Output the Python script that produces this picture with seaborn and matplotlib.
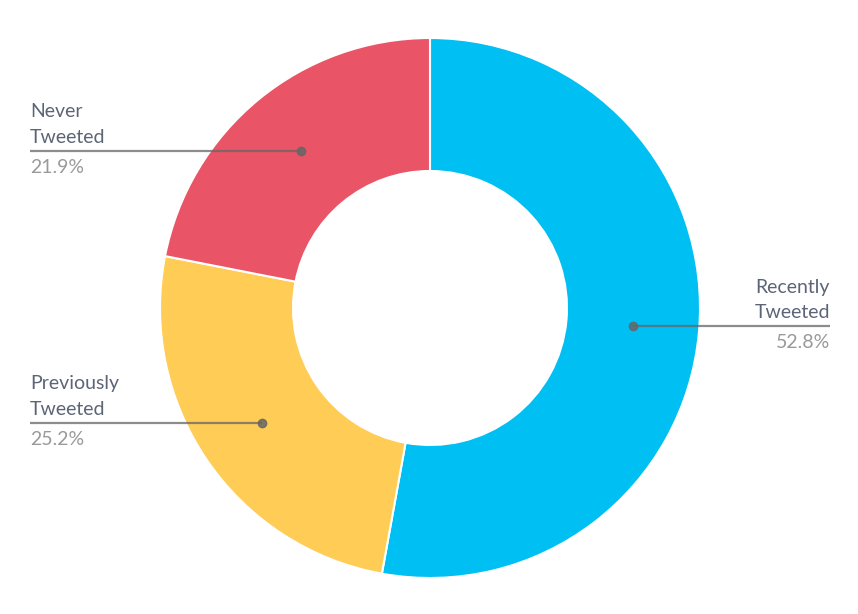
import numpy as np
import matplotlib
matplotlib.use("Agg")
import matplotlib.pyplot as plt
import seaborn as sns

# chart data
labels = ["Recently\nTweeted", "Previously\nTweeted", "Never\nTweeted"]
shares = [52.8, 25.2, 21.9]
colors = ["#00BFF3", "#FFCC55", "#EA5467"]

sns.set_theme(style="white")
plt.rcParams["font.family"] = ["Lato", "DejaVu Sans"]

fig = plt.figure(figsize=(8.58, 6.14), dpi=100)
ax = fig.add_axes([0, 0, 1, 1])

cx, cy = 430, 306
R = 270
ring = 133

wedges, _ = ax.pie(shares, colors=colors, startangle=90, counterclock=False,
                   center=(cx, cy), radius=R, frame=True,
                   wedgeprops=dict(width=ring, edgecolor="white", linewidth=1.5))
ax.set_xlim(0, 858)
ax.set_ylim(0, 614)
ax.set_aspect("equal")
ax.axis("off")

text_col = "#5B6577"
pct_col = "#9A9A9A"
r_mid = R - ring / 2

for w, lab, val in zip(wedges, labels, shares):
    ang = np.deg2rad((w.theta1 + w.theta2) / 2)
    px = cx + r_mid * np.cos(ang)
    py = cy + r_mid * np.sin(ang)
    if px > cx:
        x_end, ha = 830, "right"
    else:
        x_end, ha = 30, "left"
    ax.plot([px, x_end], [py, py], color="#666666", alpha=0.75, lw=1.6,
            solid_capstyle="butt", zorder=5)
    ax.plot(px, py, "o", color="#666666", alpha=0.85, ms=6, zorder=6)
    ax.text(x_end, py + 5, lab, ha=ha, va="bottom", fontsize=14,
            color=text_col, linespacing=1.6, zorder=6)
    ax.text(x_end, py - 8, f"{val:.1f}%", ha=ha, va="top", fontsize=14,
            color=pct_col, zorder=6)

fig.savefig("out.png", dpi=100, facecolor="white")
